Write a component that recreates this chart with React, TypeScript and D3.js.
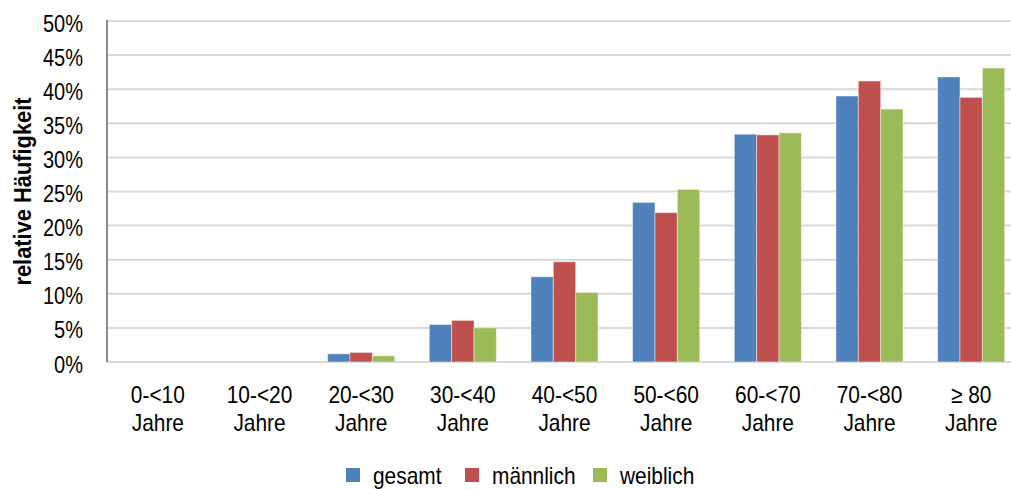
import React from "react";
import * as d3 from "d3";

const categories = ["0-<10|Jahre", "10-<20|Jahre", "20-<30|Jahre", "30-<40|Jahre", "40-<50|Jahre", "50-<60|Jahre", "60-<70|Jahre", "70-<80|Jahre", "≥ 80|Jahre"];
const gesamt = [0, 0, 1.2, 5.5, 12.5, 23.4, 33.4, 39.0, 41.8];
const maennlich = [0, 0, 1.4, 6.1, 14.7, 21.9, 33.3, 41.2, 38.8];
const weiblich = [0, 0, 0.9, 5.0, 10.2, 25.3, 33.6, 37.1, 43.1];
const seriesNames = ["gesamt", "männlich", "weiblich"];
const seriesColors = ["#4F81BD", "#C0504D", "#9BBB59"];
const yTicks = [0, 5, 10, 15, 20, 25, 30, 35, 40, 45, 50];

const W = 1011;
const H = 489;
const left = 107;
const top = 21;
const bottom = 362;
const right = 1022;
const FONT = "'Liberation Sans', Arial, sans-serif";
const SX = 0.87; // narrow text rendering

function Label(props: { x: number; y: number; anchor?: string; size: number; children: React.ReactNode }) {
  return (
    <text
      transform={`translate(${props.x},${props.y}) scale(${SX},1)`}
      textAnchor={props.anchor || "start"}
      fontSize={props.size}
      fill="#000"
    >
      {props.children}
    </text>
  );
}

export default function App() {
  const seriesValues = [gesamt, maennlich, weiblich];
  const x = d3.scaleBand<string>().domain(categories).range([left, right]).paddingInner(0.34).paddingOuter(0.17);
  const xs = d3.scaleBand<number>().domain([0, 1, 2]).range([0, x.bandwidth()]);
  const y = d3.scaleLinear().domain([0, 50]).range([bottom, top]);

  const legendX = [346, 465, 593];

  return (
    <svg width={W} height={H} style={{ position: "absolute", left: 0, top: 0, background: "#fff" }} fontFamily={FONT}>
      {yTicks.map((t) => (
        <g key={t}>
          <line x1={left} x2={right} y1={y(t)} y2={y(t)} stroke="#d9d9d9" strokeWidth={2} />
          <Label x={83} y={y(t) + 10.5} anchor="end" size={23}>{`${t}%`}</Label>
        </g>
      ))}
      {categories.map((c, i) => (
        <g key={c}>
          {seriesValues.map((vals, s) => {
            const x0 = (x(c) as number) + (xs(s) as number);
            return (
              <rect
                key={s}
                x={x0}
                y={y(vals[i])}
                width={xs.bandwidth()}
                height={bottom - y(vals[i])}
                fill={seriesColors[s]}
                stroke="rgba(255,255,255,0.45)"
                strokeWidth={1}
              />
            );
          })}
          {c.split("|").map((line, k) => (
            <Label key={k} x={(x(c) as number) + x.bandwidth() / 2} y={403 + k * 28} anchor="middle" size={24}>
              {line}
            </Label>
          ))}
        </g>
      ))}
      <line x1={left} x2={left} y1={top - 1} y2={bottom} stroke="#8c8c8c" strokeWidth={2} />
      <text
        transform={`translate(31,${(top + bottom) / 2}) rotate(-90) scale(0.95,1)`}
        textAnchor="middle"
        fontSize={23}
        fontWeight="bold"
        fill="#000"
      >
        relative Häufigkeit
      </text>
      {seriesNames.map((n, s) => (
        <g key={n}>
          <rect x={legendX[s]} y={468} width={14} height={14} fill={seriesColors[s]} />
          <Label x={legendX[s] + 27} y={484} size={24}>{n}</Label>
        </g>
      ))}
    </svg>
  );
}
